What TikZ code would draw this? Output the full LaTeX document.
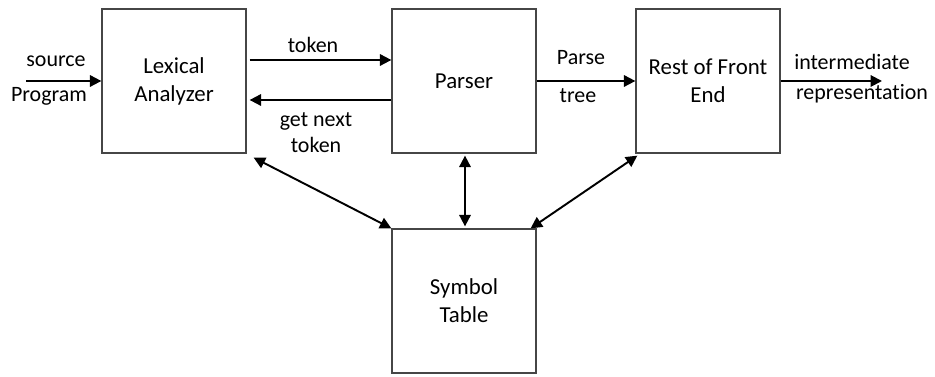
\documentclass[tikz,border=0pt]{standalone}
\usepackage{fontspec}
\setmainfont{Carlito}[Ligatures=NoCommon]
\usetikzlibrary{arrows.meta, positioning, calc}
\definecolor{boxgray}{RGB}{70,70,70}

\begin{document}
\begin{tikzpicture}[
    x=0.02cm, y=-0.02cm,
    phase/.style={
        rectangle,
        draw=boxgray,
        line width=0.75pt,
        minimum width=2.88cm,
        minimum height=2.88cm,
        align=center,
        font=\fontsize{13}{16}\selectfont
    },
    flow/.style={
        -{Triangle[length=6.5pt,width=6.5pt]},
        line width=1.1pt
    },
    both/.style={
        {Triangle[length=6.5pt,width=6.5pt]}-{Triangle[length=6.5pt,width=6.5pt]},
        line width=1.1pt
    },
    lbl/.style={
        font=\fontsize{12.5}{14.7}\selectfont,
        align=center,
        inner sep=0pt
    }
]

% page frame
\useasboundingbox (0,0) rectangle (935,377);

% Phases
\node[phase] (lex) at (174,81) {Lexical\\Analyzer};
\node[phase] (parser) at (464,81) {Parser};
\node[phase] (rest) at (708,81) {Rest of Front\\End};
\node[phase] (sym) at (464,301) {Symbol\\Table};

% Loose ends
\coordinate (srcin) at (26,81);
\coordinate (irout) at (882,81);

% Main flow
\draw[flow] (srcin) -- (lex.west);
\draw[flow] ($(lex.east)+(3,-21)$) -- ($(parser.west)+(0,-21)$);
\draw[flow] ($(parser.west)+(0,19)$) -- ($(lex.east)+(3,19)$);
\draw[flow] (parser) -- (rest);
\draw[flow] (rest.east) -- (irout);

% Symbol table lookups
\draw[both] ($(lex.south east)+(7,4)$) -- (sym.north west);
\draw[both] ($(parser.south)+(1,2)$) -- ($(sym.north)+(1,-2)$);
\draw[both] ($(rest.south west)+(2,2)$) -- ($(sym.north east)+(-6,0)$);

% Labels
\node[lbl, anchor=base] (srclbl) at (56,67) {source};
\node[lbl, anchor=base] (proglbl) at (49,102) {Program};
\node[lbl, anchor=base] (toklbl) at (313,53) {token};
\node[lbl] (nextlbl) at (316,133) {get next\\token};
\node[lbl, anchor=base] (parselbl) at (581,65) {Parse};
\node[lbl, anchor=base] (treelbl) at (578,103) {tree};
\node[lbl, anchor=base] (intlbl) at (852,70) {intermediate};
\node[lbl, anchor=base] (replbl) at (862,100) {representation};

\end{tikzpicture}
\end{document}
